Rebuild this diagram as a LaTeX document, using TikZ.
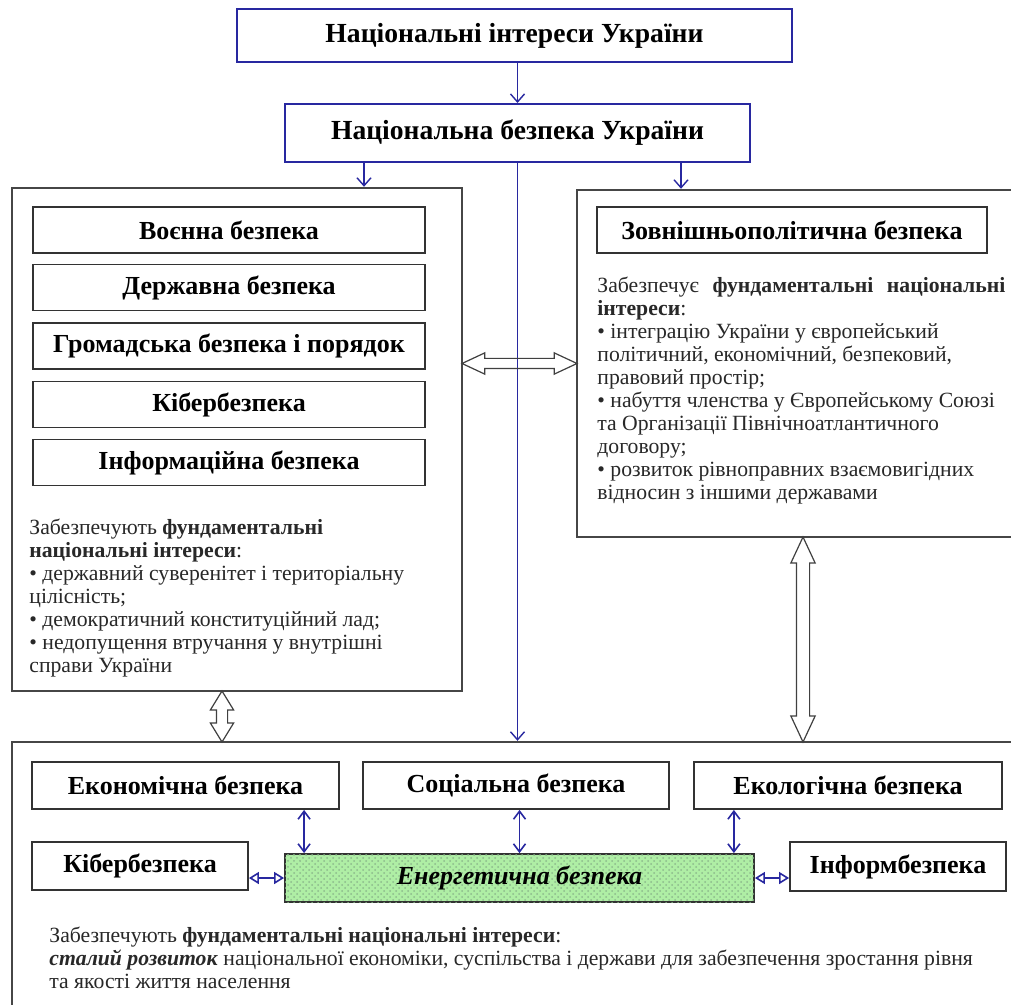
\documentclass[tikz,border=0pt]{standalone}
\usepackage{fontspec}
\setmainfont{Liberation Serif}
\usetikzlibrary{arrows.meta,positioning,calc,shapes.arrows,patterns}
\definecolor{ukblue}{RGB}{40,40,160}
\definecolor{ukgray}{RGB}{70,70,70}
\definecolor{ukgreen}{RGB}{175,238,165}
\definecolor{uktext}{RGB}{40,40,40}

\begin{document}
\begin{tikzpicture}[x=0.5pt,y=-0.5pt,
  topbox/.style={draw=ukblue,line width=1pt,inner sep=0pt,font=\fontsize{13.8}{15}\selectfont\bfseries},
  panel/.style={draw=ukgray,line width=1.2pt,inner sep=0pt},
  secbox/.style={draw=black!80,line width=0.9pt,inner sep=0pt,minimum height=23pt,font=\fontsize{13}{15}\selectfont\bfseries},
  bodytext/.style={inner sep=0pt,anchor=north west,align=left,text=uktext,font=\fontsize{10.85}{11.45}\selectfont},
  dblarrow/.style={double arrow,draw=black!75,line width=0.6pt,inner xsep=0pt,double arrow head extend=2.75pt,double arrow tip angle=50},
  blarrow/.style={ukblue,line width=0.7pt,-{Straight Barb[length=4pt,width=7pt]}},
  blboth/.style={ukblue,line width=0.8pt,{Straight Barb[length=4pt,width=6pt]}-{Straight Barb[length=4pt,width=6pt]}},
  blside/.style={ukblue,line width=0.8pt,{Triangle[open,length=5pt,width=6pt]}-{Triangle[open,length=5pt,width=6pt]}}]
  \useasboundingbox (0,0) rectangle (1011,1005);
  \clip (0,0) rectangle (1011,1005);
  \fill[white] (0,0) rectangle (1011,1005);

  % top of the scheme
  \node[topbox,minimum width=277.5pt,minimum height=26.5pt] (interests) at (514.5,35.5) {Національні інтереси України};
  \node[topbox,minimum width=232.5pt,minimum height=29pt] (security) at (517.5,133) {Національна безпека України};

  % three panels
  \node[panel,minimum width=225pt,minimum height=251.5pt] (internal) at (237,439.5) {};
  \node[panel,minimum width=226pt,minimum height=173.5pt] (foreign) at (803,363.5) {};
  \node[panel,minimum width=509pt,minimum height=150pt] (lower) at (521,892) {};

  % left panel
  \node[secbox,minimum width=196pt] (defence) at (229,230) {Воєнна безпека};
  \node[secbox,minimum width=196pt] (state) at (229,287.5) {Державна безпека};
  \node[secbox,minimum width=196pt] (public) at (229,346) {Громадська безпека і порядок};
  \node[secbox,minimum width=196pt] (cyberA) at (229,404.5) {Кібербезпека};
  \node[secbox,minimum width=196pt] (infoA) at (229,462.5) {Інформаційна безпека};
  \node[bodytext] (internaltext) at (29,519) {Забезпечують \textbf{фундаментальні}\\
    \textbf{національні інтереси}:\\
    • державний суверенітет і територіальну\\
    цілісність;\\
    • демократичний конституційний лад;\\
    • недопущення втручання у внутрішні\\
    справи України};

  % right panel
  \node[secbox,minimum width=195pt] (foreignsec) at (792,230) {Зовнішньополітична безпека};
  \node[bodytext] (foreigntext) at (597,277) {\hbox to 204pt{Забезпечує\hfill\textbf{фундаментальні}\hfill\textbf{національні}}\\
    \textbf{інтереси}:\\
    • інтеграцію України у європейський\\
    політичний, економічний, безпековий,\\
    правовий простір;\\
    • набуття членства у Європейському Союзі\\
    та Організації Північноатлантичного\\
    договору;\\
    • розвиток рівноправних взаємовигідних\\
    відносин з іншими державами};

  % bottom panel
  \node[secbox,minimum width=153.5pt,minimum height=23.5pt] (economic) at (185.5,785.5) {Економічна безпека};
  \node[secbox,minimum width=153pt,minimum height=23.5pt] (social) at (516,785.5) {Соціальна безпека};
  \node[secbox,minimum width=154pt,minimum height=23.5pt] (ecology) at (848,785.5) {Екологічна безпека};
  \node[secbox,minimum width=108pt,minimum height=24pt] (cyberB) at (140,866) {Кібербезпека};
  \node[secbox,minimum width=234.5pt,minimum height=24pt,fill=ukgreen,
    postaction={pattern=crosshatch dots,pattern color=green!40!black!45},
    font=\fontsize{13}{15}\selectfont\bfseries\itshape] (energy) at (519.5,878) {Енергетична безпека};
  \node[secbox,minimum width=108pt,minimum height=24.5pt] (infoB) at (898,866.5) {Інформбезпека};
  \node[bodytext] (lowertext) at (49,927) {Забезпечують \textbf{фундаментальні національні інтереси}:\\
    \textbf{\textit{сталий розвиток}} національної економіки, суспільства і держави для забезпечення зростання рівня\\
    та якості життя населення};

  % blue arrows
  \draw[blarrow] (security.north |- interests.south) -- (security.north);
  \coordinate (sl) at ([xshift=40pt]security.south west);
  \coordinate (sr) at ([xshift=-35pt]security.south east);
  \draw[blarrow] (sl) -- (sl |- internal.north);
  \draw[blarrow] (sr) -- (sr |- foreign.north);
  \draw[blarrow] (security.south) -- (security.south |- lower.north);

  % hollow links between panels
  \node[dblarrow,inner ysep=2.25pt,minimum height=57.5pt] (linkA) at ($(internal.east |- foreign.west)!0.5!(foreign.west)$) {};
  \node[dblarrow,inner ysep=3pt,minimum height=102.5pt,rotate=90] (linkB) at ($(foreign.south)!0.5!(foreign.south |- lower.north)$) {};
  \node[dblarrow,inner ysep=2.5pt,minimum height=25.5pt,rotate=90,double arrow tip angle=63,double arrow head extend=3pt] (linkC) at ($(internal.south)!0.5!(internal.south |- lower.north)+(-15,0)$) {};

  % links to energy security
  \coordinate (ea) at ([xshift=10pt]energy.north west);
  \coordinate (ec) at ([xshift=-10.5pt]energy.north east);
  \draw[blboth] (ea |- economic.south) -- (ea);
  \draw[blboth] (energy.north |- social.south) -- (energy.north);
  \draw[blboth] (ec |- ecology.south) -- (ec);
  \draw[blside] (cyberB.east |- energy.west) -- (energy.west);
  \draw[blside] (energy.east) -- (infoB.west |- energy.east);
\end{tikzpicture}
\end{document}
